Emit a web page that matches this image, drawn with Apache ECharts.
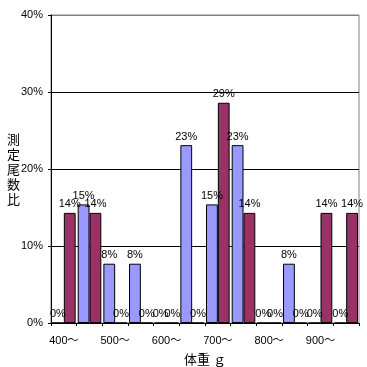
<!DOCTYPE html>
<html><head><meta charset="utf-8">
<script src="https://cdn.jsdelivr.net/npm/echarts@6/dist/echarts.min.js"></script>
<style>html,body{margin:0;padding:0;background:#fff}#c{width:367px;height:367px}</style>
</head><body><div id="c"></div>
<script>
var categories = ['400～','450～','500～','550～','600～','650～','700～','750～','800～','850～','900～','950～'];
var seriesA = [0, 15.4, 7.7, 7.7, 0, 23.1, 15.4, 23.1, 0, 7.7, 0, 0];
var seriesB = [14.3, 14.3, 0, 0, 0, 0, 28.6, 14.3, 0, 0, 14.3, 14.3];
var yTicks = [0, 10, 20, 30, 40];

var font = '"Liberation Sans", "Noto Sans CJK JP", sans-serif';
var chart = echarts.init(document.getElementById('c'), null, {renderer: 'canvas'});
function lbl() {
  return {show: true, position: 'top', distance: 3, color: '#000', fontSize: 11, fontFamily: font,
    formatter: function(p){ return Math.round(p.value) + '%'; }};
}
chart.setOption({
  animation: false,
  backgroundColor: '#fff',
  grid: {left: 51, right: 8, top: 15, bottom: 44, show: true, borderColor: '#808080', borderWidth: 1,
         containLabel: false, outerBoundsMode: 'none'},
  xAxis: {
    type: 'category', data: categories,
    name: '体重 ｇ', nameLocation: 'middle', nameGap: 30, nameMoveOverlap: false,
    nameTextStyle: {color: '#000', fontSize: 13, fontFamily: '"Noto Sans CJK JP", sans-serif'},
    axisLine: {lineStyle: {color: '#000', width: 1}},
    axisTick: {show: true, interval: 0, length: 3, lineStyle: {color: '#000'}},
    axisLabel: {interval: 1, color: '#000', fontSize: 11, fontFamily: font, margin: 12}
  },
  yAxis: {
    type: 'value', min: yTicks[0], max: yTicks[yTicks.length-1], interval: 10,
    name: '測\n定\n尾\n数\n比', nameLocation: 'middle', nameRotate: 0, nameGap: 31, nameMoveOverlap: false,
    nameTextStyle: {color: '#000', fontSize: 13, lineHeight: 15, fontFamily: '"Noto Sans CJK JP", sans-serif'},
    axisLine: {show: true, lineStyle: {color: '#000', width: 1}},
    axisTick: {show: true, length: 3, lineStyle: {color: '#000'}},
    axisLabel: {color: '#000', fontSize: 11, fontFamily: font, margin: 8, formatter: '{value}%'},
    splitLine: {show: true, lineStyle: {color: ['#000','#000','#000','#000','#808080'], width: 1}}
  },
  series: [
    {type: 'bar', data: seriesA, barGap: '0%', barCategoryGap: '8%',
     itemStyle: {color: '#9999FF', borderColor: '#000', borderWidth: 1}, label: lbl()},
    {type: 'bar', data: seriesB,
     itemStyle: {color: '#993366', borderColor: '#000', borderWidth: 1}, label: lbl()}
  ]
});
</script></body></html>
